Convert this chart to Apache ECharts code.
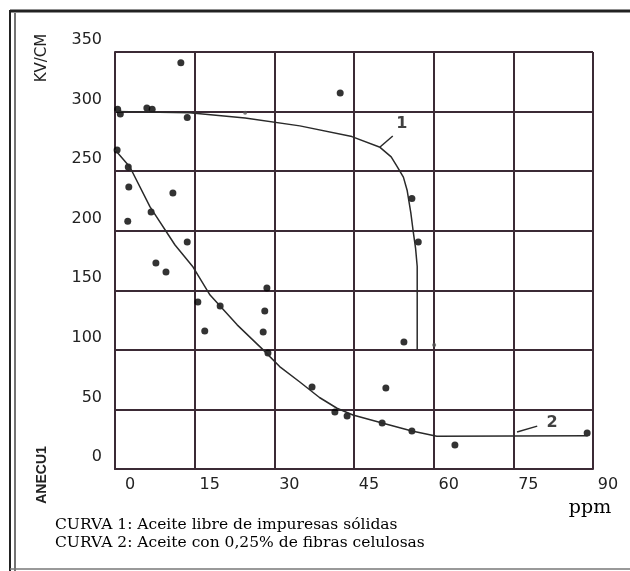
<!DOCTYPE html>
<html>
<head>
<meta charset="utf-8">
<script src="https://cdn.jsdelivr.net/npm/echarts@6/dist/echarts.min.js"></script>
<style>
  html, body { margin: 0; padding: 0; background: #fff; }
  #chart { width: 630px; height: 571px; }
</style>
</head>
<body>
<div id="chart"></div>
<script>
// curva 1: aceite libre de impuresas
const curve1Line = [[0, 300], [14, 299], [24.5, 294.6], [34.8, 288], [44.6, 279], [49.9, 270], [52, 262],
  [53.1, 254], [54.3, 245], [55, 234], [55.7, 215], [56.1, 201], [56.6, 185], [56.9, 170], [56.9, 100]];
const curve1Dots = [[0.5, 302], [1, 298], [6, 303], [7, 302], [12.4, 341], [13.6, 295], [42.4, 315.6],
  [55.9, 227], [57.1, 190.5], [54.4, 106.6]];

// curva 2: aceite con 0,25% de fibras
const curve2Line = [[0, 268], [2.8, 253.5], [6.6, 220], [11.3, 188], [14.7, 169.5], [17.9, 146], [23, 121],
  [27.9, 100], [31, 86], [34.8, 73], [38.5, 60], [41.8, 51], [44.8, 45.3], [50.3, 38.6], [55.9, 31.9],
  [60.6, 27.5], [89, 28]];
const curve2Dots = [[0.4, 267.7], [2.5, 253.5], [2.6, 236.7], [10.9, 231.7], [2.4, 208], [6.8, 215.7],
  [13.6, 190.5], [7.7, 172.9], [9.6, 165.4], [28.6, 151.9], [15.6, 140.2], [19.8, 136.8], [28.2, 132.6],
  [16.9, 115.8], [27.9, 115], [28.8, 97.4], [51.0, 68], [37.1, 68.8], [41.4, 47.8], [43.7, 44.5],
  [50.3, 38.6], [55.9, 31.9], [64.0, 20.1], [88.9, 30.2]];

// puntos pequeños
const smallDots = [[24.5, 299], [60.1, 104]];

// etiquetas de curva y sus guías
const leader1 = [[49.9, 270.3], [52.3, 279.5]];
const leader2 = [[75.7, 31], [79.5, 36]];
const curveLabels = [[54.0, 289.6, '1'], [82.3, 38.6, '2']];

const xTicks = [0, 15, 30, 45, 60, 75, 90];
const yTicks = [0, 50, 100, 150, 200, 250, 300, 350];

const ink = '#3b2a35';
const tickFont = 'DejaVu Sans, Verdana, sans-serif';
const chart = echarts.init(document.getElementById('chart'));

chart.setOption({
  animation: false,
  grid: { left: 115, right: 37, top: 52, bottom: 102 },
  xAxis: {
    type: 'value',
    min: xTicks[0],
    max: xTicks[xTicks.length - 1],
    interval: 15,
    axisLine: { show: true, lineStyle: { color: ink, width: 2 } },
    axisTick: { show: false },
    splitLine: { show: true, lineStyle: { color: ink, width: 2 } },
    axisLabel: {
      color: '#222', fontSize: 16, fontFamily: tickFont,
      margin: 8, padding: [0, 0, 0, 30]
    }
  },
  yAxis: {
    type: 'value',
    min: yTicks[0],
    max: yTicks[yTicks.length - 1],
    interval: 50,
    axisLine: { show: true, lineStyle: { color: ink, width: 2 } },
    axisTick: { show: false },
    splitLine: { show: true, lineStyle: { color: ink, width: 2 } },
    axisLabel: {
      color: '#222', fontSize: 16, fontFamily: tickFont,
      margin: 13, verticalAlign: 'bottom', padding: [0, 0, 4, 0]
    }
  },
  series: [
    { type: 'line', data: curve1Line, showSymbol: false, lineStyle: { color: '#2a2a2a', width: 1.5 } },
    { type: 'line', data: curve2Line, showSymbol: false, lineStyle: { color: '#2a2a2a', width: 1.5 } },
    { type: 'line', data: leader1, showSymbol: false, lineStyle: { color: '#2a2a2a', width: 1.5 } },
    { type: 'line', data: leader2, showSymbol: false, lineStyle: { color: '#2a2a2a', width: 1.5 } },
    { type: 'scatter', data: curve1Dots, symbolSize: 7, itemStyle: { color: '#000' } },
    { type: 'scatter', data: curve2Dots, symbolSize: 7, itemStyle: { color: '#000' } },
    { type: 'scatter', data: smallDots, symbolSize: 4, itemStyle: { color: '#555' } },
    {
      type: 'scatter', data: curveLabels, symbolSize: 0,
      label: {
        show: true, position: 'inside', formatter: p => p.data[2],
        color: '#111', fontSize: 16, fontWeight: 'bold', fontFamily: tickFont
      }
    }
  ],
  graphic: [
    { type: 'line', shape: { x1: 10, y1: 11, x2: 630, y2: 11 }, style: { stroke: '#222', lineWidth: 3 } },
    { type: 'line', shape: { x1: 10, y1: 10, x2: 10, y2: 571 }, style: { stroke: '#222', lineWidth: 2 } },
    { type: 'line', shape: { x1: 15, y1: 13, x2: 15, y2: 571 }, style: { stroke: '#444', lineWidth: 1.5 } },
    { type: 'line', shape: { x1: 10, y1: 569, x2: 630, y2: 569 }, style: { stroke: '#777', lineWidth: 1.5 } },
    {
      type: 'text', x: 42, y: 58, rotation: Math.PI / 2,
      style: { text: 'KV/CM', fill: '#222', font: '15px "DejaVu Sans", sans-serif', textAlign: 'center', textVerticalAlign: 'middle' }
    },
    {
      type: 'text', x: 42, y: 475, rotation: Math.PI / 2,
      style: { text: 'ANECU1', fill: '#222', font: 'bold 14px "Liberation Sans Narrow", "Liberation Sans", Arial, sans-serif', textAlign: 'center', textVerticalAlign: 'middle' }
    },
    {
      type: 'text', x: 590, y: 508,
      style: { text: 'ppm', fill: '#000', font: '19px "DejaVu Serif", serif', textAlign: 'center', textVerticalAlign: 'middle' }
    },
    {
      type: 'text', x: 55, y: 525,
      style: { text: 'CURVA 1: Aceite libre de impuresas sólidas', fill: '#000', font: '15.5px "DejaVu Serif", serif', textAlign: 'left', textVerticalAlign: 'middle' }
    },
    {
      type: 'text', x: 55, y: 543,
      style: { text: 'CURVA 2: Aceite con 0,25% de fibras celulosas', fill: '#000', font: '15.5px "DejaVu Serif", serif', textAlign: 'left', textVerticalAlign: 'middle' }
    }
  ]
});
</script>
</body>
</html>
